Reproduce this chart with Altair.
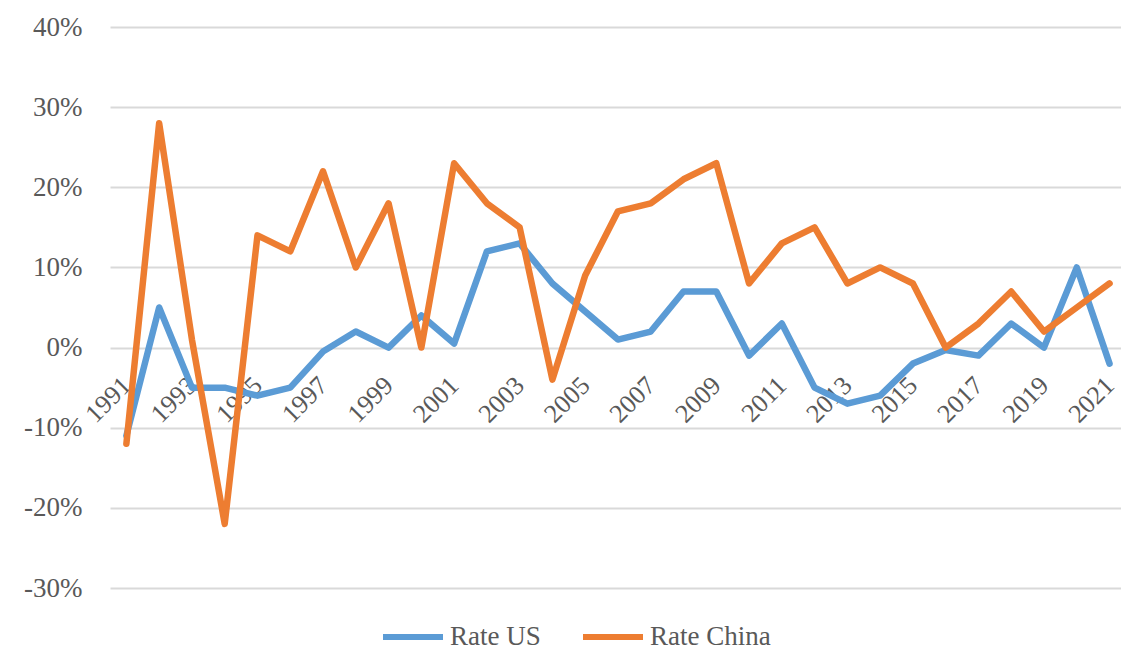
import altair as alt
import pandas as pd

years = list(range(1991, 2022))
rate_us = [-11, 5, -5, -5, -6, -5, -0.5, 2, 0, 4, 0.5, 12, 13, 8, 4.5, 1, 2, 7, 7, -1,
           3, -5, -7, -6, -2, -0.3, -1, 3, 0, 10, -2]
rate_china = [-12, 28, 1, -22, 14, 12, 22, 10, 18, 0, 23, 18, 15, -4, 9, 17, 18, 21, 23, 8,
              13, 15, 8, 10, 8, 0, 3, 7, 2, 5, 8]
series_names = ["Rate US", "Rate China"]
series_colors = ["#5B9BD5", "#ED7D31"]
y_ticks = [-0.3, -0.2, -0.1, 0.0, 0.1, 0.2, 0.3, 0.4]
x_ticks = list(range(1991, 2022, 2))

rows = []
for name, vals in zip(series_names, [rate_us, rate_china]):
    for yr, v in zip(years, vals):
        rows.append({"Year": yr, "Series": name, "Rate": v / 100.0})
df = pd.DataFrame(rows)

FONT = "Liberation Serif"
GREY = "#595959"

chart = alt.Chart(df).mark_line(strokeWidth=6.5, strokeJoin="round", strokeCap="round").encode(
    x=alt.X("Year:Q",
            scale=alt.Scale(domain=[1990.5, 2021.35], nice=False, zero=False),
            axis=alt.Axis(values=x_ticks, format="d", labelAngle=-45, labelAlign="right",
                          labelBaseline="middle", labelPadding=33, offset=-240,
                          ticks=False, domain=False, grid=False, title=None,
                          labelFont=FONT, labelFontSize=26, labelColor=GREY,
                          labelOverlap=False, labelFlush=False)),
    y=alt.Y("Rate:Q",
            scale=alt.Scale(domain=[-0.3, 0.4], nice=False, zero=False),
            axis=alt.Axis(values=y_ticks,
                          labelExpr="replace(format(datum.value, '.0%'), '\u2212', '-')",
                          ticks=False, domain=False,
                          grid=True, gridColor="#D9D9D9", gridWidth=2, title=None,
                          labelFont=FONT, labelFontSize=27, labelColor=GREY,
                          labelPadding=28)),
    color=alt.Color("Series:N",
                    scale=alt.Scale(domain=series_names, range=series_colors),
                    sort=series_names,
                    legend=alt.Legend(title=None, orient="none", direction="horizontal",
                                      legendX=270, legendY=577,
                                      symbolType="stroke", symbolStrokeWidth=6,
                                      symbolSize=3600, labelFont=FONT, labelFontSize=27,
                                      labelColor=GREY, labelOffset=4, columnPadding=30)),
    order=alt.Order("Year:Q"),
).properties(
    width=1011, height=561,
    autosize=alt.AutoSizeParams(type="none"),
    padding={"left": 102, "top": 19, "right": 0, "bottom": 64},
).configure_view(stroke=None)

chart.save("out.html", embed_options={"renderer": "svg", "actions": False})
